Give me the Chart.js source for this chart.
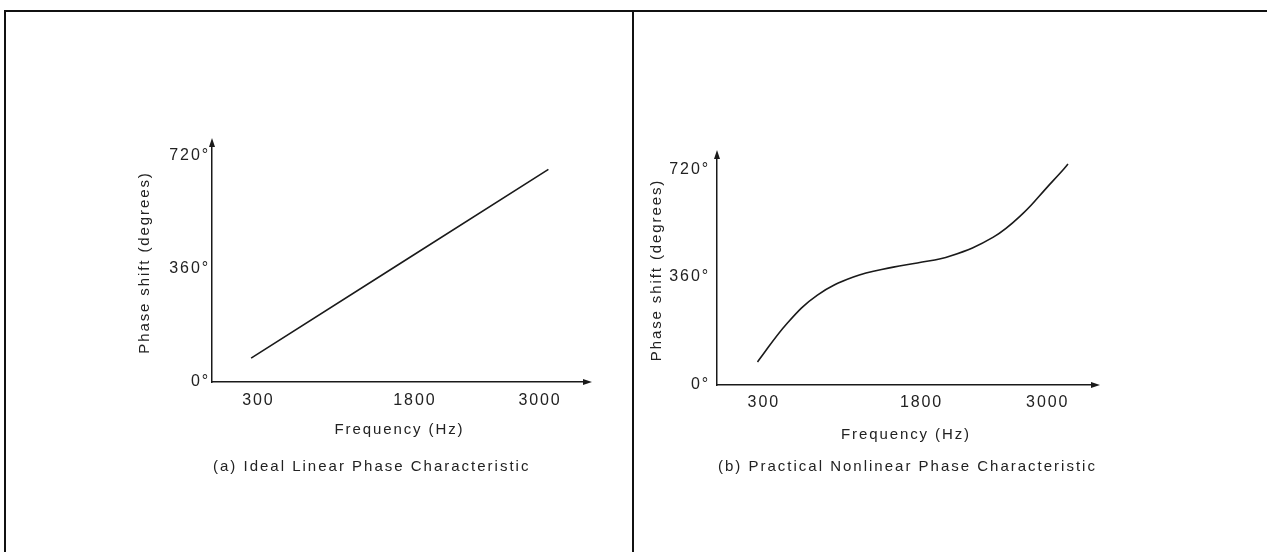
<!DOCTYPE html>
<html>
<head>
<meta charset="utf-8">
<script src="https://cdn.jsdelivr.net/npm/chart.js@4.4.0/dist/chart.umd.min.js"></script>
<style>
  html, body { margin: 0; padding: 0; background: #fff; }
  body { width: 1267px; height: 552px; position: relative; overflow: hidden; font-family: "Liberation Sans", Arial, sans-serif; }
  .frame { position: absolute; left: 4px; top: 10px; width: 1263px; height: 542px; border-left: 2px solid #111; border-top: 2px solid #111; box-sizing: border-box; }
  .divider { position: absolute; left: 632px; top: 10px; width: 2px; height: 542px; background: #111; }
  canvas { position: absolute; top: 0; }
  .caption { position: absolute; top: 457px; font-size: 15px; letter-spacing: 2px; color: #222; white-space: nowrap; }
</style>
</head>
<body>
<div class="frame"></div>
<div class="divider"></div>
<canvas id="idealChart" width="633" height="552" style="left:0"></canvas>
<canvas id="practicalChart" width="634" height="552" style="left:633px"></canvas>
<div class="caption" style="left:213px">(a) Ideal Linear Phase Characteristic</div>
<div class="caption" style="left:718px">(b) Practical Nonlinear Phase Characteristic</div>

<script>
// values
const xTicks = [300, 1800, 3000];
const yTicks = [0, 360, 720];

const idealFreq = [230, 3080];
const idealPhase = [76, 676];

const practicalFreq = [240, 525, 810, 1152, 1532, 1760, 2074, 2483, 2768, 2996, 3145, 3193];
const practicalPhase = [77, 207, 300, 360, 393, 407, 430, 493, 573, 660, 717, 737];

const ink = "#1a1a1a";
const face = "Liberation Sans";

// arrow heads at the end of both axes + wide type spacing
const axisArrows = {
  id: "axisArrows",
  beforeDraw(chart) {
    chart.ctx.letterSpacing = "1.9px";
  },
  afterDraw(chart) {
    const { ctx, chartArea: a } = chart;
    ctx.save();
    ctx.fillStyle = ink;
    ctx.beginPath();
    ctx.moveTo(a.right + 5, a.bottom);
    ctx.lineTo(a.right - 4, a.bottom - 3);
    ctx.lineTo(a.right - 4, a.bottom + 3);
    ctx.closePath();
    ctx.fill();
    ctx.beginPath();
    ctx.moveTo(a.left, a.top - 5);
    ctx.lineTo(a.left - 3, a.top + 4);
    ctx.lineTo(a.left + 3, a.top + 4);
    ctx.closePath();
    ctx.fill();
    ctx.restore();
  },
};

function makePanel(id, freq, phase, cfg) {
  const points = freq.map((f, i) => ({ x: f, y: phase[i] }));
  return new Chart(document.getElementById(id), {
    type: "line",
    data: {
      datasets: [
        {
          data: points,
          borderColor: ink,
          borderWidth: 1.6,
          pointRadius: 0,
          tension: 0.4,
          fill: false,
        },
      ],
    },
    options: {
      responsive: false,
      animation: false,
      layout: { padding: cfg.padding },
      plugins: { legend: { display: false }, tooltip: { enabled: false } },
      scales: {
        x: {
          type: "linear",
          min: -145,
          max: 3450,
          afterBuildTicks: (scale) => {
            scale.ticks = xTicks.map((v) => ({ value: v }));
          },
          afterFit: (scale) => {
            scale.height = 60;
          },
          grid: { display: false, drawTicks: false },
          border: { display: true, color: ink, width: 1.5 },
          ticks: {
            autoSkip: false,
            maxRotation: 0,
            padding: cfg.xTickPad,
            color: "#222",
            font: { family: face, size: 16 },
            callback: (v) => String(v),
          },
          title: {
            display: true,
            text: "Frequency (Hz)",
            color: "#222",
            font: { family: face, size: 15 },
            padding: { top: 0, bottom: cfg.xTitlePad },
          },
        },
        y: {
          type: "linear",
          min: 0,
          max: cfg.yMax,
          afterBuildTicks: (scale) => {
            scale.ticks = yTicks.map((v) => ({ value: v }));
          },
          afterFit: (scale) => {
            scale.width = 80;
          },
          grid: { display: false, drawTicks: false },
          border: { display: true, color: ink, width: 1.5 },
          ticks: {
            padding: cfg.yTickPad,
            color: "#222",
            font: { family: face, size: 16 },
            callback: (v) => v + "°",
          },
          title: {
            display: true,
            text: "Phase shift (degrees)",
            color: "#222",
            font: { family: face, size: 15 },
            padding: { top: cfg.yTitlePad, bottom: 0 },
          },
        },
      },
    },
    plugins: [axisArrows],
  });
}

makePanel("idealChart", idealFreq, idealPhase, {
  padding: { left: 132, right: 46, top: 143, bottom: 110 },
  yMax: 760,
  xTickPad: 9,
  xTitlePad: 3,
  yTickPad: 2,
  yTitlePad: 4,
});

makePanel("practicalChart", practicalFreq, practicalPhase, {
  padding: { left: 4, right: 172, top: 155, bottom: 107 },
  yMax: 767,
  xTickPad: 8,
  xTitlePad: 1,
  yTickPad: 7,
  yTitlePad: 11,
});
</script>
</body>
</html>
